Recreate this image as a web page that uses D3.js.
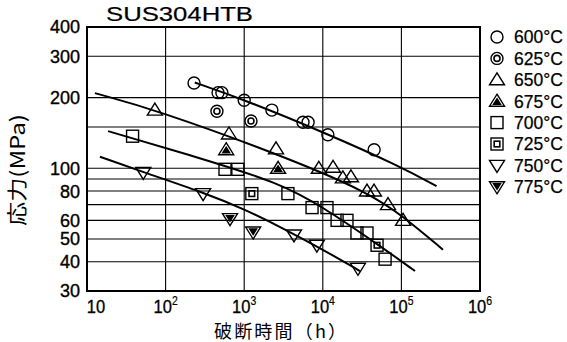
<!DOCTYPE html>
<html>
<head>
<meta charset="utf-8">
<script src="https://cdn.jsdelivr.net/npm/d3@7"></script>
<style>
  html, body { margin: 0; padding: 0; background: #fff; }
  svg { display: block; }
</style>
</head>
<body>
<div id="chart"></div>
<script>
// rupture data: [hours, MPa]
var s600 = [[230, 231], [465, 210], [520, 210], [1000, 195], [2250, 177], [5600, 157], [6500, 157], [11600, 139], [45000, 120]];
var s625 = [[450, 175], [1220, 159]];
var s650 = [[73, 177], [640, 140], [2540, 121], [8900, 100], [13500, 101], [18000, 91], [22800, 92], [36500, 80], [44800, 80], [67500, 70], [105000, 60]];
var s675 = [[590, 120], [2700, 100]];
var s700 = [[38, 137], [570, 99], [830, 99], [3600, 78], [7300, 68], [11300, 68], [15200, 60], [20300, 60], [27200, 53], [36500, 53], [62000, 41]];
var s725 = [[1250, 78], [49000, 47]];
var s750 = [[52, 96], [300, 78], [4300, 52], [8400, 47], [28000, 37.5]];
var s775 = [[660, 61], [1300, 53.5]];

// fitted curves
var c600 = [[235, 232], [1000, 196], [10000, 143], [96000, 102], [280000, 84]];
var c650 = [[12.6, 209], [73, 178], [3300, 112], [37600, 79], [105000, 62.6], [338000, 45]];
var c700 = [[18.5, 144], [274, 110.6], [2850, 86.5], [10060, 68.4], [53400, 46.7], [149000, 36.5]];
var c750 = [[14.6, 112], [51.6, 96.4], [300, 79], [1000, 67], [3300, 55], [10060, 45], [29700, 36.5]];

var xTicks = [10, 1e2, 1e3, 1e4, 1e5, 1e6];
var xExp = ["", "2", "3", "4", "5", "6"];
var yTicks = [30, 40, 50, 60, 80, 100, 200, 300, 400];
var yGrid = [30, 40, 50, 60, 70, 80, 90, 100, 150, 200, 300, 400];

var legendLabels = ["600°C", "625°C", "650°C", "675°C", "700°C", "725°C", "750°C", "775°C"];
var legendTypes = ["circle", "dcircle", "tri", "dtri", "sq", "dsq", "itri", "ditri"];
var seriesList = [s600, s625, s650, s675, s700, s725, s750, s775];
var curveList = [c600, c650, c700, c750];

var w = 567, h = 342;
var svg = d3.select("#chart").append("svg").attr("width", w).attr("height", h);

var x = d3.scaleLog().domain([10, 1e6]).range([87, 480]);
var y = d3.scaleLog().domain([30, 400]).range([291, 27]);

var font = "'Liberation Sans', Arial, sans-serif";

// grid
svg.append("g").selectAll("line").data(yGrid).enter().append("line")
    .attr("x1", 87).attr("x2", 480)
    .attr("y1", d => y(d)).attr("y2", d => y(d))
    .attr("stroke", "#000").attr("stroke-width", 1.1);
svg.append("g").selectAll("line").data(xTicks.slice(1, -1)).enter().append("line")
    .attr("x1", d => x(d)).attr("x2", d => x(d))
    .attr("y1", 27).attr("y2", 291)
    .attr("stroke", "#000").attr("stroke-width", 1.1);

// frame
svg.append("rect").attr("x", 87).attr("y", 27).attr("width", 393).attr("height", 264)
    .attr("fill", "none").attr("stroke", "#000").attr("stroke-width", 2);

// curves
var line = d3.line().x(d => x(d[0])).y(d => y(d[1])).curve(d3.curveBasis);
svg.append("g").selectAll("path").data(curveList).enter().append("path")
    .attr("d", line).attr("fill", "none").attr("stroke", "#000").attr("stroke-width", 2);

// marker drawing
function drawMarker(g, type, cx, cy) {
    var m = g.append("g").attr("transform", "translate(" + cx + "," + cy + ")")
        .attr("fill", "none").attr("stroke", "#000").attr("stroke-width", 1.4);
    if (type == "circle" || type == "dcircle") {
        m.append("circle").attr("r", 6);
        if (type == "dcircle") m.append("circle").attr("r", 3).attr("stroke-width", 1.6);
    } else if (type == "tri" || type == "dtri") {
        m.append("path").attr("d", "M0,-7L7.5,5L-7.5,5Z");
        if (type == "dtri") m.append("path").attr("d", "M0,-2.5L3.5,3L-3.5,3Z").attr("fill", "#000");
    } else if (type == "itri" || type == "ditri") {
        m.append("path").attr("d", "M0,7L7.5,-5L-7.5,-5Z");
        if (type == "ditri") m.append("path").attr("d", "M0,2.5L3.5,-3L-3.5,-3Z").attr("fill", "#000");
    } else {
        m.append("rect").attr("x", -6).attr("y", -6).attr("width", 12).attr("height", 12);
        if (type == "dsq") m.append("rect").attr("x", -2.8).attr("y", -2.8).attr("width", 5.6).attr("height", 5.6).attr("stroke-width", 1.6);
    }
}

var pts = svg.append("g");
seriesList.forEach(function (s, i) {
    s.forEach(function (d) { drawMarker(pts, legendTypes[i], x(d[0]), y(d[1])); });
});

// y tick labels
svg.append("g").selectAll("text").data(yTicks).enter().append("text")
    .attr("x", 80).attr("y", d => y(d)).attr("dy", "0.36em")
    .attr("text-anchor", "end")
    .style("font-family", font).style("font-size", "18px")
    .style("stroke", "#000").style("stroke-width", 0.35)
    .text(d => d);

// x tick labels
xTicks.forEach(function (t, i) {
    var tx = svg.append("text")
        .attr("transform", "translate(" + (i == 0 ? 96 : x(t)) + ",313) scale(0.87,1)")
        .attr("text-anchor", "middle")
        .style("font-family", font).style("font-size", "19px")
        .style("stroke", "#000").style("stroke-width", 0.35);
    tx.append("tspan").text("10");
    if (xExp[i]) tx.append("tspan").attr("dy", -8).style("font-size", "12px").style("stroke-width", 0.2).text(xExp[i]);
});

// title
svg.append("text").attr("x", 106).attr("y", 21)
    .attr("textLength", 147).attr("lengthAdjust", "spacingAndGlyphs")
    .style("font-family", font).style("font-size", "20px")
    .style("stroke", "#000").style("stroke-width", 0.2)
    .text("SUS304HTB");

// axis titles
svg.append("text").attr("x", 280).attr("y", 338)
    .attr("text-anchor", "middle")
    .style("font-family", "'Noto Sans CJK JP', sans-serif").style("font-size", "18px")
    .attr("textLength", 132).attr("lengthAdjust", "spacing")
    .text("破断時間（h）");

svg.append("text").attr("transform", "translate(25,170) rotate(-90)")
    .attr("text-anchor", "middle")
    .attr("textLength", 112).attr("lengthAdjust", "spacingAndGlyphs")
    .style("font-family", "'Noto Sans CJK JP', sans-serif").style("font-size", "20px")
    .text("応力(MPa)");

// legend
var lg = svg.append("g");
legendLabels.forEach(function (l, i) {
    var ly = 37 + i * 21.4;
    drawMarker(lg, legendTypes[i], 497, ly);
    lg.append("text").attr("x", 514).attr("y", ly).attr("dy", "0.36em")
        .style("font-family", font).style("font-size", "17.5px")
        .style("stroke", "#000").style("stroke-width", 0.25)
        .text(l);
});
</script>
</body>
</html>
